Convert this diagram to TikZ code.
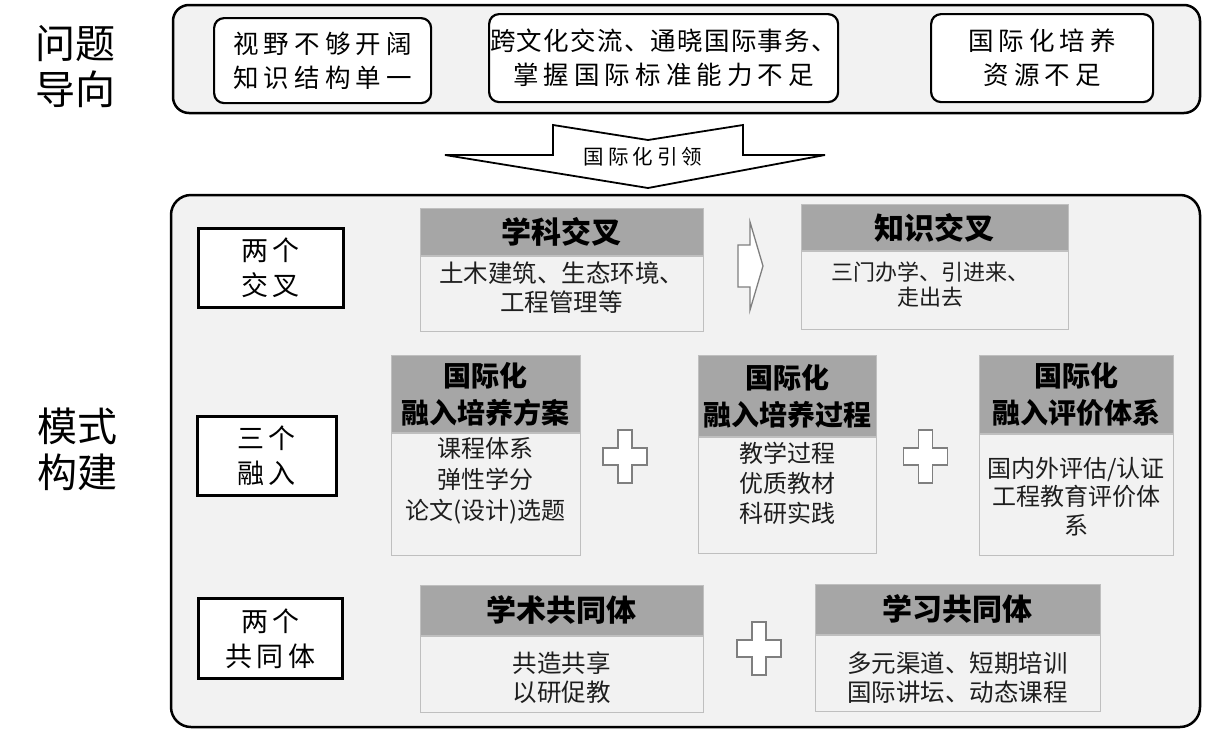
\documentclass[tikz,border=0pt]{standalone}
\usepackage{fontspec}
\setmainfont{Noto Sans CJK SC}
\newfontfamily\kaiti[LetterSpace=20]{Noto Sans CJK SC}
\usetikzlibrary{positioning}

\definecolor{panelgray}{HTML}{F2F2F2}
\definecolor{headgray}{HTML}{A6A6A6}
\definecolor{linegray}{HTML}{BFBFBF}
\definecolor{signgray}{HTML}{7F7F7F}
\definecolor{inkgray}{HTML}{1E1E1E}

\tikzset{
  panel/.style={draw=black, line width=2.5pt, fill=panelgray, rounded corners=16pt},
  issue/.style={draw=black, line width=2.2pt, fill=white, rounded corners=10pt, anchor=north west,
    align=center, inner sep=0pt, font=\kaiti\fontsize{25.5}{34}\selectfont},
  tag/.style={draw=black, line width=2.5pt, fill=white, anchor=north west, align=center, inner sep=0pt,
    font=\kaiti\addfontfeature{LetterSpace=16}\fontsize{27}{35}\selectfont},
  cardhead/.style={fill=headgray, draw=linegray, line width=0.8pt, anchor=north west, align=center,
    inner sep=0pt, font=\bfseries\fontsize{28}{37}\selectfont},
  cardbody/.style={fill=panelgray, draw=linegray, line width=0.8pt, anchor=north west, inner sep=0pt},
  cardtext/.style={align=center, text=inkgray, inner sep=0pt, font=\fontsize{24}{30}\selectfont},
  sign/.style={draw=signgray, line width=1.3pt, fill=white},
  bigword/.style={align=center, font=\fontsize{40}{46}\selectfont}
}

\begin{document}
\begin{tikzpicture}[x=1pt, y=-1pt]
\useasboundingbox (0,0) rectangle (1206,731);

\draw[panel] (173,5) rectangle (1200,113);
\draw[panel, rounded corners=20pt] (171,195) rectangle (1200,727);

\node[bigword] (wtdx) at (75,67) {问题\\导向};
\node[bigword] (msgj) at (77,449) {模式\\构建};

\node[issue, minimum width=217pt, minimum height=85pt] (narrow) at (213,17) {视野不够开阔\\知识结构单一};
\node[issue, minimum width=349pt, minimum height=88pt] (ability) at (488,13)
  {{\addfontfeature{LetterSpace=5}跨文化交流、通晓国际事务、}\\掌握国际标准能力不足};
\node[issue, minimum width=222pt, minimum height=88pt] (resource) at (930,13) {国际化培养\\资源不足};

\draw[line width=1.8pt, fill=white] (553,125) -- (648,140) -- (743,125) -- (743,155) -- (825,155)
  -- (648,188) -- (445,155) -- (553,155) -- cycle;
\node[font=\kaiti\addfontfeature{LetterSpace=20}\fontsize{20.5}{20}\selectfont] (lead) at (643,157) {国际化引领};

\node[tag, minimum width=145pt, minimum height=79pt] (cross) at (197,227) {两个\\交叉};
\node[tag, minimum width=139pt, minimum height=79pt] (merge) at (196,415) {三个\\融入};
\node[tag, minimum width=144pt, minimum height=80pt] (commune) at (197,597) {两个\\共同体};

\node[cardhead, minimum width=283pt, minimum height=47pt, font=\bfseries\fontsize{30}{37}\selectfont] (xkh) at (420,208) {学科交叉};
\node[cardbody, minimum width=283pt, minimum height=75pt] (xkb) at (xkh.south west) {};
\node[cardtext, font=\fontsize{24.5}{29}\selectfont] (xkt) at (561.5,288) {土木建筑、生态环境、\\工程管理等};

\draw[sign] (738,245) -- (750,245) -- (750,222) -- (763,266) -- (750,310) -- (750,287) -- (738,287) -- cycle;

\node[cardhead, minimum width=267pt, minimum height=46pt, font=\bfseries\fontsize{30}{37}\selectfont] (zsh) at (801,204) {知识交叉};
\node[cardbody, minimum width=267pt, minimum height=78pt] (zsb) at (zsh.south west) {};
\node[cardtext, font=\fontsize{22}{25}\selectfont] (zst) at (930,285) {三门办学、引进来、\\走出去};

\node[cardhead, minimum width=189pt, minimum height=77pt] (fah) at (391,355) {国际化\\融入培养方案};
\node[cardbody, minimum width=189pt, minimum height=122pt] (fab) at (fah.south west) {};
\node[cardtext, font=\fontsize{24}{31}\selectfont] (fat) at (485.5,481) {课程体系\\弹性学分\\论文(设计)选题};

\node[cardhead, minimum width=178pt, minimum height=81pt] (gch) at (698,355) {国际化\\融入培养过程};
\node[cardbody, minimum width=178pt, minimum height=116pt] (gcb) at (gch.south west) {};
\node[cardtext] (gct) at (787,483) {教学过程\\优质教材\\科研实践};

\node[cardhead, minimum width=194pt, minimum height=78pt] (pjh) at (979,355) {国际化\\融入评价体系};
\node[cardbody, minimum width=194pt, minimum height=121pt] (pjb) at (pjh.south west) {};
\node[cardtext, font=\fontsize{24}{28.5}\selectfont] (pjt) at (1076,496.5) {国内外评估/认证\\工程教育评价体\\系};

\node[cardhead, minimum width=283pt, minimum height=50pt, font=\bfseries\fontsize{30}{37}\selectfont] (xsh) at (420,585) {学术共同体};
\node[cardbody, minimum width=283pt, minimum height=76pt] (xsb) at (xsh.south west) {};
\node[cardtext, font=\fontsize{24.5}{29}\selectfont] (xst) at (561.5,677.5) {共造共享\\以研促教};

\node[cardhead, minimum width=285pt, minimum height=50pt, font=\bfseries\fontsize{30}{37}\selectfont] (xxh) at (815,584) {学习共同体};
\node[cardbody, minimum width=285pt, minimum height=76pt] (xxb) at (xxh.south west) {};
\node[cardtext, font=\fontsize{24.5}{29}\selectfont] (xxt) at (957.5,677.5) {多元渠道、短期培训\\国际讲坛、动态课程};

\foreach \cx/\cy in {625/456.5, 925.5/456.5, 759/648.5}
  \draw[sign] (\cx-7,\cy-26.5) -- ++(14,0) -- ++(0,18) -- ++(15,0) -- ++(0,17) -- ++(-15,0)
    -- ++(0,18) -- ++(-14,0) -- ++(0,-18) -- ++(-15,0) -- ++(0,-17) -- ++(15,0) -- cycle;
\end{tikzpicture}
\end{document}
